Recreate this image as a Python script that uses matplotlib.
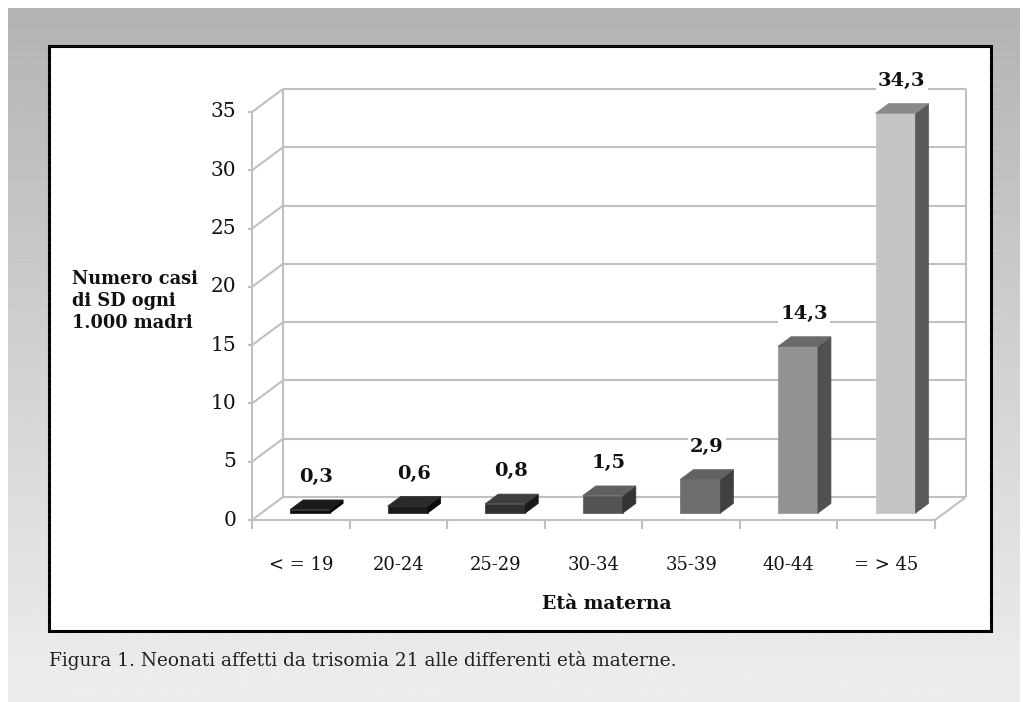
import numpy as np
import matplotlib
matplotlib.use("Agg")
import matplotlib.pyplot as plt
from matplotlib.patches import Polygon, Rectangle

# dati: neonati con trisomia 21 per fascia di eta' materna
categorie = ["< = 19", "20-24", "25-29", "30-34", "35-39", "40-44", "= > 45"]
casi = [0.3, 0.6, 0.8, 1.5, 2.9, 14.3, 34.3]
etichette = ["0,3", "0,6", "0,8", "1,5", "2,9", "14,3", "34,3"]
yticks = [0, 5, 10, 15, 20, 25, 30, 35]

colori_fronte = ["#0e0e0e", "#1c1c1c", "#303030", "#545454", "#6e6e6e", "#939393", "#c4c4c4"]
colori_lato = ["#050505", "#0c0c0c", "#1a1a1a", "#333333", "#404040", "#505050", "#5a5a5a"]
colori_top = ["#1a1a1a", "#2a2a2a", "#3e3e3e", "#606060", "#626262", "#6a6a6a", "#8a8a8a"]

W, H = 1023, 702
plt.rcParams['font.family'] = ['DejaVu Serif', 'Liberation Serif']
fig = plt.figure(figsize=(W / 100, H / 100), dpi=100)

# sfondo grigio sfumato
bg = fig.add_axes([0, 0, 1, 1])
bg.set_xlim(0, W)
bg.set_ylim(H, 0)
bg.axis("off")
rows = np.linspace(0, 1, 300)
vals = np.clip(0.70 + (0.915 - 0.70) * rows / 0.92, 0, 0.925)
grad = np.repeat(vals[:, None], 2, axis=1)
bg.imshow(grad, cmap="gray", vmin=0, vmax=1, extent=[8, 1020, 702, 8], aspect="auto",
          interpolation="bilinear")
for yy in np.arange(12, 700, 8.5):
    bg.plot([8, 1020], [yy, yy], color="white", lw=0.7, alpha=0.08)
bg.add_patch(Rectangle((49, 46), 942, 585, facecolor="white", edgecolor="black", lw=2.2))
bg.text(49, 660, "Figura 1. Neonati affetti da trisomia 21 alle differenti età materne.",
        fontsize=13.3, va="center", ha="left", color="#222222")

# piano frontale del grafico: x 0..7 categorie, y 0..35
x0, x1, y0, y1 = 252, 935, 520, 112
ax = fig.add_axes([x0 / W, 1 - y0 / H, (x1 - x0) / W, (y0 - y1) / H])
ax.set_xlim(0, len(categorie))
ax.set_ylim(0, 35)
ax.axis("off")

DX = 31 / ((x1 - x0) / len(categorie))
DY = 23 / ((y0 - y1) / 35)


def P(x, y, d):
    return (x + d * DX, y + d * DY)


grid = dict(color="#c0c0c0", lw=1.5, zorder=1, clip_on=False, solid_capstyle="butt")
n = len(categorie)
for v in yticks:
    ax.plot(*zip(P(0, v, 1), P(n, v, 1)), **grid)
    ax.plot(*zip(P(0, v, 0), P(0, v, 1)), **grid)
    ax.plot([-0.04, 0], [v, v], **grid)
    ax.text(-0.16, v, str(v), ha="right", va="center", fontsize=14.5, color="#111111")
ax.plot(*zip(P(0, 0, 1), P(0, 35, 1)), **grid)
ax.plot(*zip(P(n, 0, 1), P(n, 35, 1)), **grid)
ax.plot([0, 0], [0, 35], **grid)
ax.plot([0, n], [0, 0], **grid)
ax.plot(*zip(P(n, 0, 0), P(n, 0, 1)), **grid)
for k in range(n + 1):
    ax.plot([k, k], [0, -0.8], **grid)

# barre 3D
w, d0, d1 = 0.205, 0.30, 0.72
for i, (v, lab) in enumerate(zip(casi, etichette)):
    c = i + 0.5
    front = [P(c - w, 0, d0), P(c + w, 0, d0), P(c + w, v, d0), P(c - w, v, d0)]
    side = [P(c + w, 0, d0), P(c + w, 0, d1), P(c + w, v, d1), P(c + w, v, d0)]
    top = [P(c - w, v, d0), P(c + w, v, d0), P(c + w, v, d1), P(c - w, v, d1)]
    for poly, col in ((front, colori_fronte[i]), (side, colori_lato[i]), (top, colori_top[i])):
        ax.add_patch(Polygon(poly, closed=True, facecolor=col, edgecolor=col, lw=0.5,
                             zorder=3, clip_on=False))
    lx, ly = P(c, v + 2.4, 0.5)
    ax.text(lx, ly, lab, ha="center", va="center", fontsize=14, fontweight="bold",
            color="#111111", zorder=5,
            bbox=dict(facecolor="white", edgecolor="none", pad=1.5))
    ax.text(c, -3.86, categorie[i], ha="center", va="center", fontsize=13, color="#111111")

fig.text(607 / W, 1 - 604 / H, "Età materna", ha="center", va="center", fontsize=13.5,
         fontweight="bold", color="#111111")
fig.text(72 / W, 1 - 301 / H, "Numero casi\ndi SD ogni\n1.000 madri", ha="left", va="center",
         fontsize=12.8, fontweight="bold", color="#111111", linespacing=1.3)

fig.savefig("out.png", dpi=100)
